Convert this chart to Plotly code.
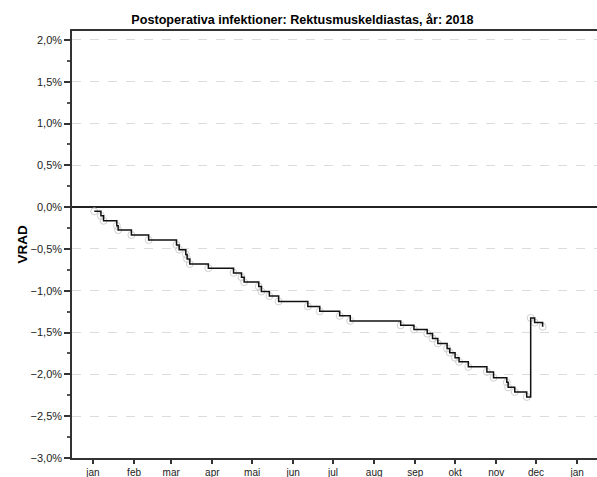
import plotly.graph_objects as go

title_text = "Postoperativa infektioner: Rektusmuskeldiastas, år: 2018"
y_title = "VRAD"

dates = [
    "2018-01-02", "2018-01-07", "2018-01-09", "2018-01-19", "2018-01-20",
    "2018-01-30", "2018-02-12", "2018-03-05", "2018-03-07", "2018-03-12",
    "2018-03-13", "2018-03-15", "2018-03-29", "2018-04-17", "2018-04-23",
    "2018-04-25", "2018-05-06", "2018-05-08", "2018-05-14", "2018-05-21",
    "2018-06-12", "2018-06-21", "2018-07-06", "2018-07-14", "2018-08-21",
    "2018-08-31", "2018-09-10", "2018-09-14", "2018-09-18", "2018-09-25",
    "2018-09-27", "2018-10-01", "2018-10-04", "2018-10-11", "2018-10-25",
    "2018-10-30", "2018-11-09", "2018-11-10", "2018-11-15", "2018-11-24",
    "2018-11-27", "2018-11-30", "2018-12-06",
]
vrad = [
    -0.05, -0.104, -0.163, -0.223, -0.274,
    -0.333, -0.393, -0.452, -0.508, -0.565,
    -0.619, -0.679, -0.73, -0.786, -0.837,
    -0.896, -0.949, -1.008, -1.063, -1.127,
    -1.187, -1.246, -1.30, -1.36, -1.413,
    -1.464, -1.512, -1.571, -1.63, -1.69,
    -1.74, -1.80, -1.85, -1.91, -1.97,
    -2.04, -2.095, -2.155, -2.21, -2.27,
    -1.325, -1.38, -1.43,
]

month_ticks = [
    "2018-01-01", "2018-02-01", "2018-03-01", "2018-04-01", "2018-05-01",
    "2018-06-01", "2018-07-01", "2018-08-01", "2018-09-01", "2018-10-01",
    "2018-11-01", "2018-12-01", "2019-01-01",
]
month_labels = ["jan", "feb", "mar", "apr", "mai", "jun", "jul", "aug",
                "sep", "okt", "nov", "dec", "jan"]

font_family = "Liberation Sans, Arial, sans-serif"

fig = go.Figure()
fig.add_trace(go.Scatter(
    x=dates, y=vrad,
    mode="markers",
    marker=dict(symbol="circle-open", size=7, color="#cfcfcf",
                line=dict(width=1, color="#cfcfcf")),
    showlegend=False,
    hoverinfo="skip",
))
fig.add_trace(go.Scatter(
    x=dates, y=vrad,
    mode="lines",
    line=dict(shape="hv", color="#111111", width=1.5),
    showlegend=False,
    hoverinfo="x+y",
))

fig.update_layout(
    width=597, height=477,
    margin=dict(l=72, r=0, t=31, b=19, autoexpand=False),
    paper_bgcolor="white", plot_bgcolor="white",
    separators=",.",
    font=dict(family=font_family, color="#222222"),
    title=dict(
        text="<b>" + title_text + "</b>",
        x=302.5 / 597, xanchor="center",
        yref="container", y=1 - 20 / 477, yanchor="middle",
        automargin=False,
        font=dict(size=12.6, color="#000000", family=font_family),
    ),
    xaxis=dict(
        type="date", automargin=False,
        range=["2017-12-16 05:00", "2019-01-16"],
        tickmode="array", tickvals=month_ticks, ticktext=month_labels,
        ticks="outside", ticklen=4, tickwidth=1.5, tickcolor="#333333",
        showgrid=False, zeroline=False,
        showline=True, linecolor="#333333", linewidth=1.5, mirror=True,
        tickfont=dict(size=10, color="#222222"),
        fixedrange=True,
    ),
    yaxis=dict(
        automargin=False,
        range=[-3.0, 2.107],
        tickmode="linear", tick0=0, dtick=0.5,
        tickformat=".1f", ticksuffix="%",
        ticks="outside", ticklen=6, tickwidth=1.5, tickcolor="#333333",
        minor=dict(dtick=0.25, tick0=0, ticks="outside", ticklen=3,
                   tickwidth=1.5, tickcolor="#555555", showgrid=False),
        showgrid=True, gridcolor="#dcdcdc", gridwidth=1, griddash="dash",
        zeroline=True, zerolinecolor="#222222", zerolinewidth=1.5,
        showline=True, linecolor="#333333", linewidth=1.5, mirror=True,
        tickfont=dict(size=11, color="#222222"),
        fixedrange=True,
    ),
    annotations=[dict(
        text="<b>" + y_title + "</b>", textangle=-90,
        xref="paper", yref="paper", x=0, y=0.5,
        xanchor="center", yanchor="middle", xshift=-50, showarrow=False,
        font=dict(size=13.5, color="#000000", family=font_family),
    )],
)

fig.write_html(
    "out.html",
    config={"displayModeBar": False},
    post_script="document.body.style.margin='0';document.body.style.padding='0';",
)
